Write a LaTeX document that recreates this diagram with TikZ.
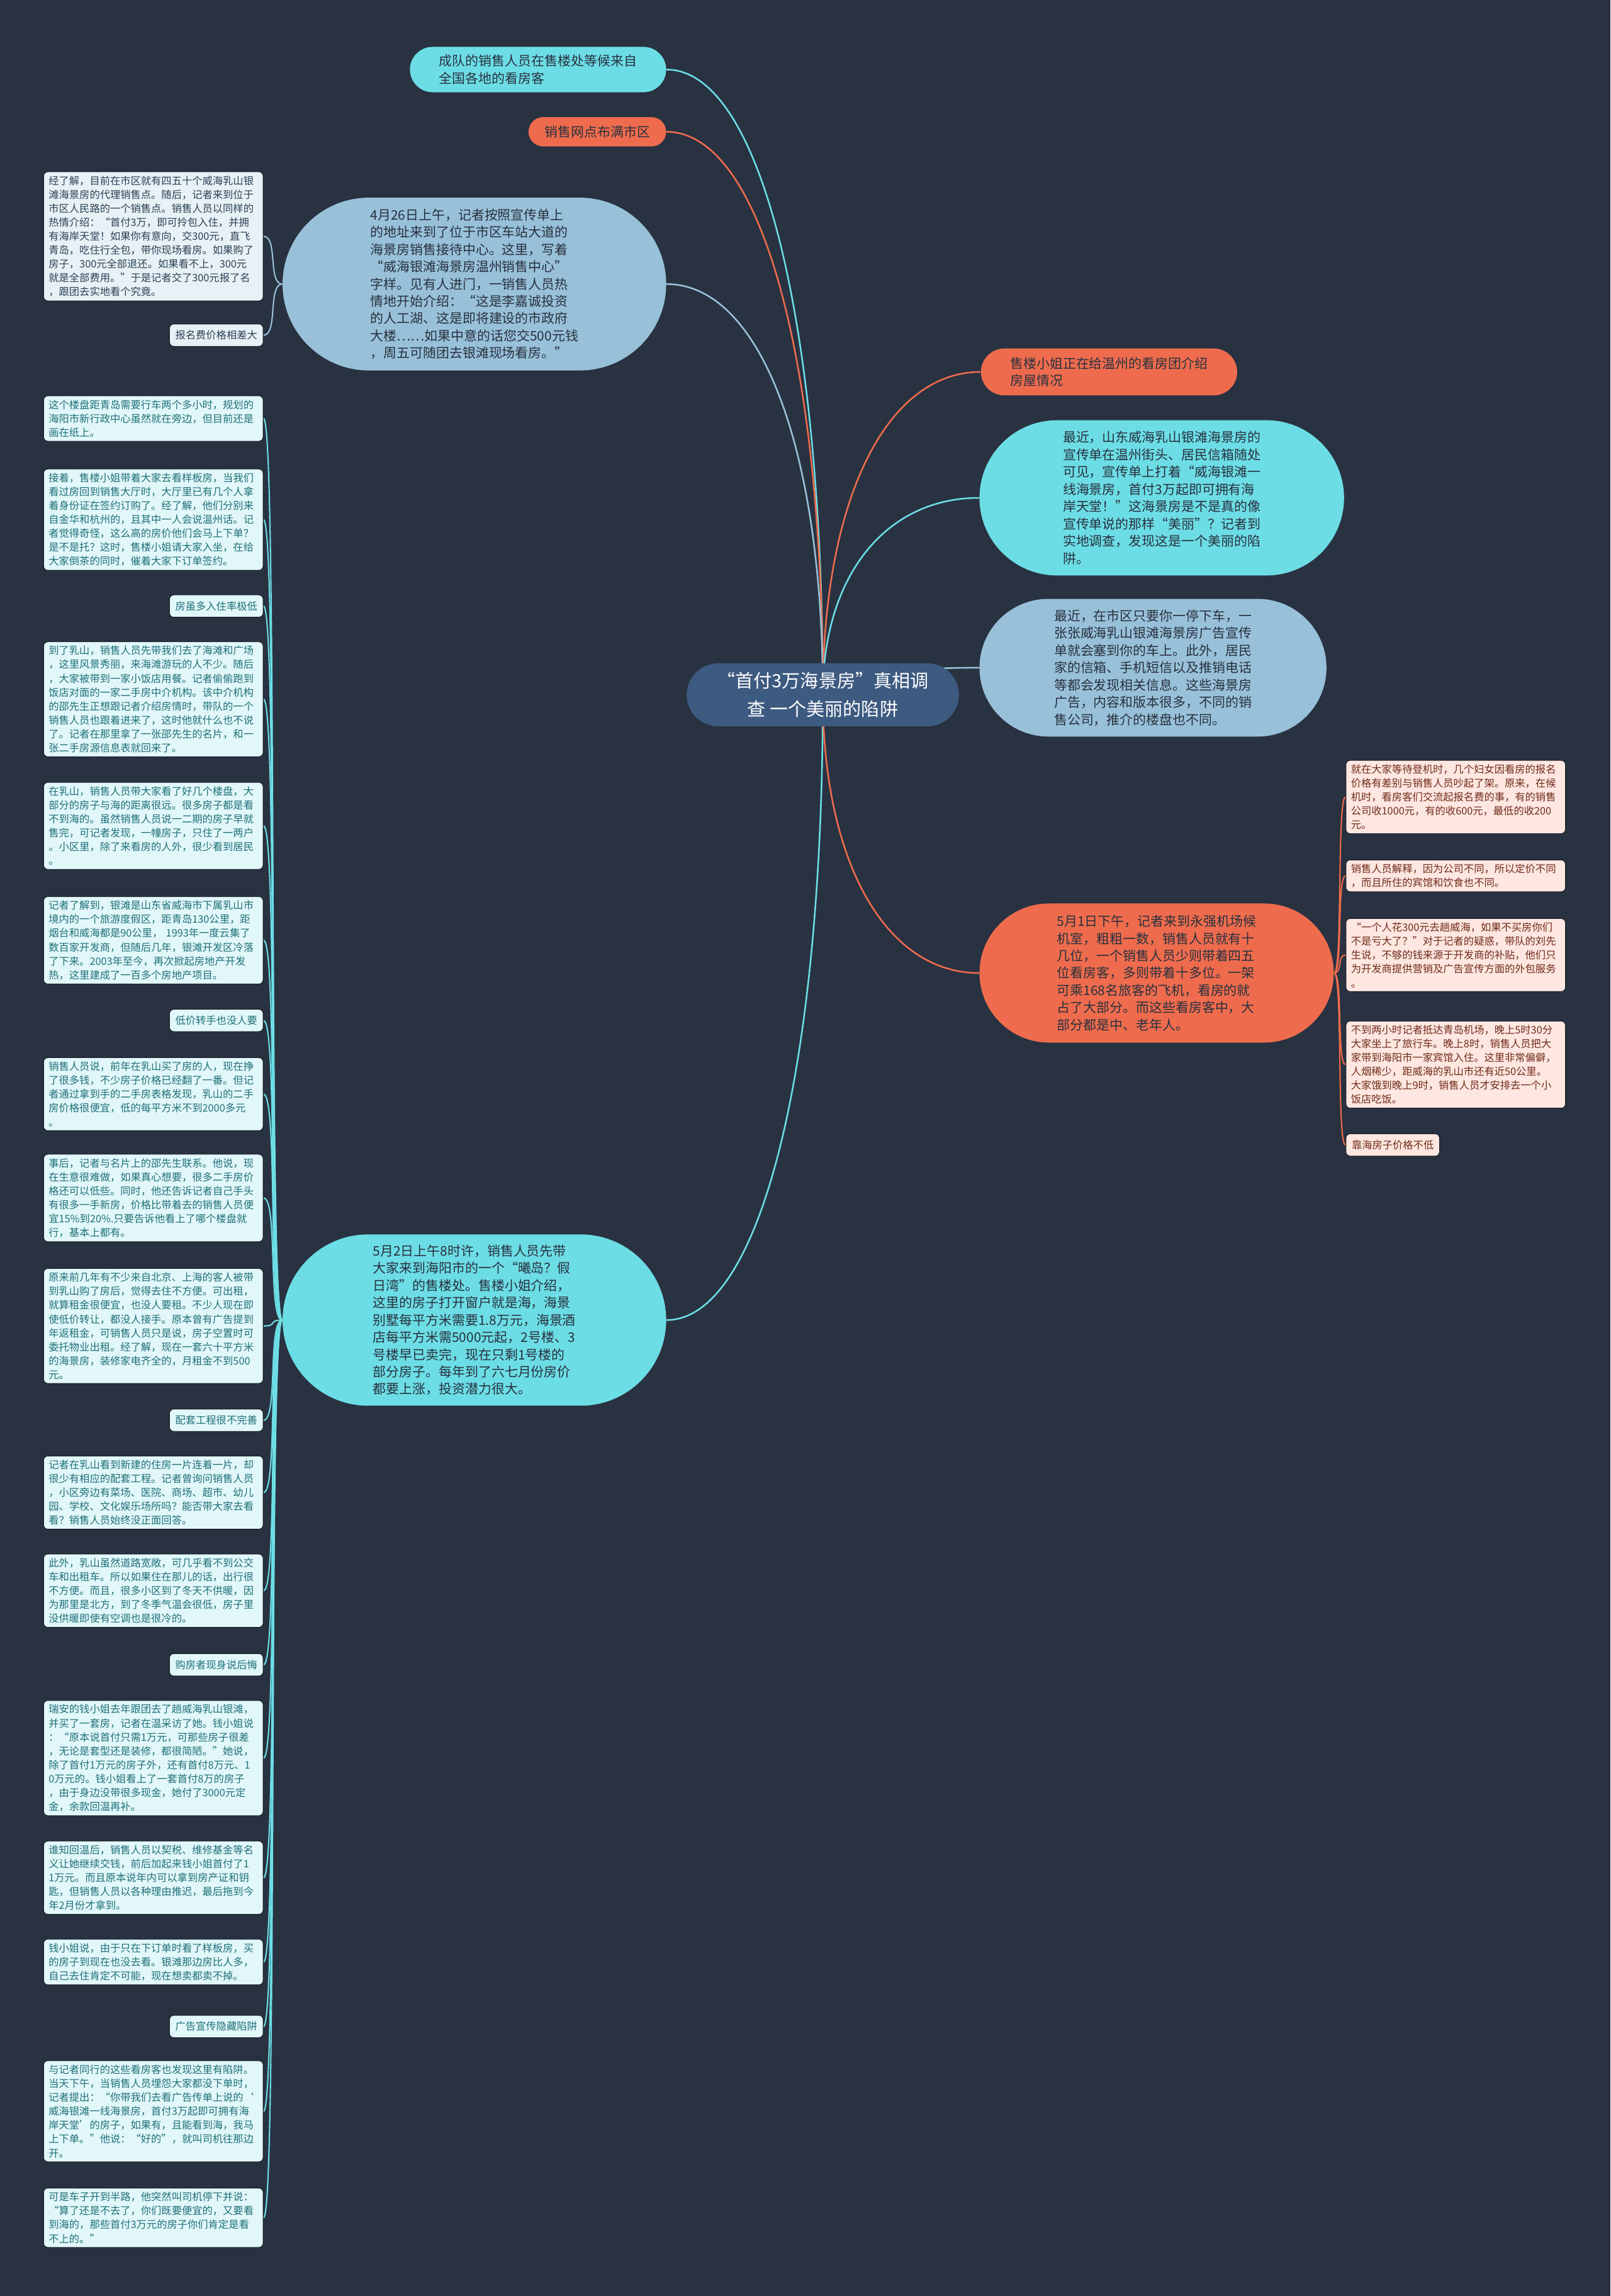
\documentclass[tikz,border=0pt]{standalone}
\usepackage{fontspec}
\setmainfont{Noto Sans CJK SC}
\usepackage{xcolor}
\usepackage{tikz}
\usetikzlibrary{shapes.misc}

\definecolor{bgdark}{RGB}{41,50,65}
\definecolor{inkdark}{RGB}{40,48,62}
\definecolor{rimdark}{RGB}{28,34,44}
\definecolor{rootc}{RGB}{61,90,128}
\definecolor{cyanc}{RGB}{108,221,229}
\definecolor{orangec}{RGB}{238,108,77}
\definecolor{lbluec}{RGB}{152,193,217}
\definecolor{lbfill}{RGB}{232,241,246}
\definecolor{lbtext}{RGB}{44,66,84}
\definecolor{cyfill}{RGB}{226,247,249}
\definecolor{cytext}{RGB}{30,112,120}
\definecolor{orfill}{RGB}{253,231,224}
\definecolor{ortext}{RGB}{112,42,26}

\pgfdeclarelayer{back}
\pgfdeclarelayer{edges}
\pgfsetlayers{back,edges,main}

\begin{document}
\begin{tikzpicture}[
    x=1pt, y=-1pt,
    pill/.style={rounded rectangle, align=left, inner sep=0pt, text=inkdark, font=\fontsize{9}{11.8}\selectfont},
    note/.style={draw=rimdark, line width=0.5pt, rounded corners=3pt, align=left, text width=143pt, inner xsep=3.5pt, inner ysep=2.8pt, font=\fontsize{7}{9.5}\selectfont, anchor=north east},
    tag/.style={draw=rimdark, line width=0.5pt, rounded corners=3pt, inner xsep=4pt, inner ysep=4.4pt, font=\fontsize{7}{9.5}\selectfont, anchor=north east},
    bluenote/.style={fill=lbfill, text=lbtext},
    cyannote/.style={fill=cyfill, text=cytext},
    orangenote/.style={fill=orfill, text=ortext, anchor=north west},
    link/.style={line width=1.1pt},
    twig/.style={line width=0.9pt}
]
\begin{pgfonlayer}{back}
\fill[bgdark] (0,0) rectangle (1100,1568);
\end{pgfonlayer}
\useasboundingbox (0,0) rectangle (1100,1568);

% centre and main branches
\node[pill, fill=rootc, text=white, align=center, font=\fontsize{12.5}{19}\selectfont, minimum width=186pt, minimum height=43pt] (root) at (562,474.5) {“首付3万海景房”真相调\\查 一个美丽的陷阱};

\node[pill, fill=cyanc, minimum width=175pt, minimum height=31pt] (crowd) at (367.5,47.5) {成队的销售人员在售楼处等候来自\\全国各地的看房客};
\node[pill, fill=orangec, minimum width=94pt, minimum height=20pt] (outlets) at (408,90) {销售网点布满市区};
\node[pill, fill=lbluec, minimum width=262pt, minimum height=118pt] (apr26) at (324,194) {4月26日上午，记者按照宣传单上\\的地址来到了位于市区车站大道的\\海景房销售接待中心。这里，写着\\“威海银滩海景房温州销售中心”\\字样。见有人进门，一销售人员热\\情地开始介绍：“这是李嘉诚投资\\的人工湖、这是即将建设的市政府\\大楼……如果中意的话您交500元钱\\，周五可随团去银滩现场看房。”};
\node[pill, fill=cyanc, minimum width=262pt, minimum height=117pt] (may2) at (324,901.5) {5月2日上午8时许，销售人员先带\\大家来到海阳市的一个“曦岛？假\\日湾”的售楼处。售楼小姐介绍，\\这里的房子打开窗户就是海，海景\\别墅每平方米需要1.8万元，海景酒\\店每平方米需5000元起，2号楼、3\\号楼早已卖完，现在只剩1号楼的\\部分房子。每年到了六七月份房价\\都要上涨，投资潜力很大。};

\node[pill, fill=orangec, minimum width=175pt, minimum height=32pt] (guide) at (757.5,254) {售楼小姐正在给温州的看房团介绍\\房屋情况};
\node[pill, fill=cyanc, minimum width=249pt, minimum height=106pt] (flyers) at (793.5,340) {最近，山东威海乳山银滩海景房的\\宣传单在温州街头、居民信箱随处\\可见，宣传单上打着“威海银滩一\\线海景房，首付3万起即可拥有海\\岸天堂！”这海景房是不是真的像\\宣传单说的那样“美丽”？记者到\\实地调查，发现这是一个美丽的陷\\阱。};
\node[pill, fill=lbluec, minimum width=237pt, minimum height=94pt] (handout) at (787.5,456) {最近，在市区只要你一停下车，一\\张张威海乳山银滩海景房广告宣传\\单就会塞到你的车上。此外，居民\\家的信箱、手机短信以及推销电话\\等都会发现相关信息。这些海景房\\广告，内容和版本很多，不同的销\\售公司，推介的楼盘也不同。};
\node[pill, fill=orangec, minimum width=242pt, minimum height=95pt] (may1) at (790,664.5) {5月1日下午，记者来到永强机场候\\机室，粗粗一数，销售人员就有十\\几位，一个销售人员少则带着四五\\位看房客，多则带着十多位。一架\\可乘168名旅客的飞机，看房的就\\占了大部分。而这些看房客中，大\\部分都是中、老年人。};

% notes of 4/26
\node[note, bluenote] (intro) at (180,117) {经了解，目前在市区就有四五十个威海乳山银\\滩海景房的代理销售点。随后，记者来到位于\\市区人民路的一个销售点。销售人员以同样的\\热情介绍：“首付3万，即可拎包入住，并拥\\有海岸天堂！如果你有意向，交300元，直飞\\青岛，吃住行全包，带你现场看房。如果购了\\房子，300元全部退还。如果看不上，300元\\就是全部费用。”于是记者交了300元报了名\\，跟团去实地看个究竟。};
\node[tag, bluenote] (feegap) at (180,221) {报名费价格相差大};

% notes of 5/2
\node[note, cyannote] (faraway) at (180,270) {这个楼盘距青岛需要行车两个多小时，规划的\\海阳市新行政中心虽然就在旁边，但目前还是\\画在纸上。};
\node[note, cyannote] (showroom) at (180,320) {接着，售楼小姐带着大家去看样板房，当我们\\看过房回到销售大厅时，大厅里已有几个人拿\\着身份证在签约订购了。经了解，他们分别来\\自金华和杭州的，且其中一人会说温州话。记\\者觉得奇怪，这么高的房价他们会马上下单？\\是不是托？这时，售楼小姐请大家入坐，在给\\大家倒茶的同时，催着大家下订单签约。};
\node[tag, cyannote] (lowoccupy) at (180,406) {房虽多入住率极低};
\node[note, cyannote] (arrive) at (180,438) {到了乳山，销售人员先带我们去了海滩和广场\\，这里风景秀丽，来海滩游玩的人不少。随后\\，大家被带到一家小饭店用餐。记者偷偷跑到\\饭店对面的一家二手房中介机构。该中介机构\\的邵先生正想跟记者介绍房情时，带队的一个\\销售人员也跟着进来了，这时他就什么也不说\\了。记者在那里拿了一张邵先生的名片，和一\\张二手房源信息表就回来了。};
\node[note, cyannote] (tour) at (180,534) {在乳山，销售人员带大家看了好几个楼盘，大\\部分的房子与海的距离很远。很多房子都是看\\不到海的。虽然销售人员说一二期的房子早就\\售完，可记者发现，一幢房子，只住了一两户\\。小区里，除了来看房的人外，很少看到居民\\。};
\node[note, cyannote] (yintan) at (180,612) {记者了解到，银滩是山东省威海市下属乳山市\\境内的一个旅游度假区，距青岛130公里，距\\烟台和威海都是90公里， 1993年一度云集了\\数百家开发商，但随后几年，银滩开发区冷落\\了下来。2003年至今，再次掀起房地产开发\\热，这里建成了一百多个房地产项目。};
\node[tag, cyannote] (nobuyer) at (180,689) {低价转手也没人要};
\node[note, cyannote] (resale) at (180,722) {销售人员说，前年在乳山买了房的人，现在挣\\了很多钱，不少房子价格已经翻了一番。但记\\者通过拿到手的二手房表格发现，乳山的二手\\房价格很便宜，低的每平方米不到2000多元\\。};
\node[note, cyannote] (agent) at (180,788) {事后，记者与名片上的邵先生联系。他说，现\\在生意很难做，如果真心想要，很多二手房价\\格还可以低些。同时，他还告诉记者自己手头\\有很多一手新房，价格比带着去的销售人员便\\宜15\%到20\%.只要告诉他看上了哪个楼盘就\\行，基本上都有。};
\node[note, cyannote] (rentout) at (180,866) {原来前几年有不少来自北京、上海的客人被带\\到乳山购了房后，觉得去住不方便。可出租，\\就算租金很便宜，也没人要租。不少人现在即\\使低价转让，都没人接手。原本曾有广告提到\\年返租金，可销售人员只是说，房子空置时可\\委托物业出租。经了解，现在一套六十平方米\\的海景房，装修家电齐全的，月租金不到500\\元。};
\node[tag, cyannote] (nofacility) at (180,962) {配套工程很不完善};
\node[note, cyannote] (facility) at (180,994) {记者在乳山看到新建的住房一片连着一片，却\\很少有相应的配套工程。记者曾询问销售人员\\，小区旁边有菜场、医院、商场、超市、幼儿\\园、学校、文化娱乐场所吗？能否带大家去看\\看？销售人员始终没正面回答。};
\node[note, cyannote] (transport) at (180,1061) {此外，乳山虽然道路宽敞，可几乎看不到公交\\车和出租车。所以如果住在那儿的话，出行很\\不方便。而且，很多小区到了冬天不供暖，因\\为那里是北方，到了冬季气温会很低，房子里\\没供暖即使有空调也是很冷的。};
\node[tag, cyannote] (regret) at (180,1129) {购房者现身说后悔};
\node[note, cyannote] (qian) at (180,1161) {瑞安的钱小姐去年跟团去了趟威海乳山银滩，\\并买了一套房，记者在温采访了她。钱小姐说\\：“原本说首付只需1万元，可那些房子很差\\，无论是套型还是装修，都很简陋。”她说，\\除了首付1万元的房子外，还有首付8万元、1\\0万元的。钱小姐看上了一套首付8万的房子\\，由于身边没带很多现金，她付了3000元定\\金，余款回温再补。};
\node[note, cyannote] (fees) at (180,1257) {谁知回温后，销售人员以契税、维修基金等名\\义让她继续交钱，前后加起来钱小姐首付了1\\1万元。而且原本说年内可以拿到房产证和钥\\匙，但销售人员以各种理由推迟，最后拖到今\\年2月份才拿到。};
\node[note, cyannote] (unsold) at (180,1324) {钱小姐说，由于只在下订单时看了样板房，买\\的房子到现在也没去看。银滩那边房比人多，\\自己去住肯定不可能，现在想卖都卖不掉。};
\node[tag, cyannote] (adtrap) at (180,1376) {广告宣传隐藏陷阱};
\node[note, cyannote] (fellow) at (180,1407) {与记者同行的这些看房客也发现这里有陷阱。\\当天下午，当销售人员埋怨大家都没下单时，\\记者提出：“你带我们去看广告传单上说的‘\\威海银滩一线海景房，首付3万起即可拥有海\\岸天堂’的房子，如果有，且能看到海，我马\\上下单。”他说：“好的”，就叫司机往那边\\开。};
\node[note, cyannote] (halfway) at (180,1494) {可是车子开到半路，他突然叫司机停下并说：\\“算了还是不去了，你们既要便宜的，又要看\\到海的，那些首付3万元的房子你们肯定是看\\不上的。”};

% notes of 5/1
\node[note, orangenote] (boarding) at (919,519) {就在大家等待登机时，几个妇女因看房的报名\\价格有差别与销售人员吵起了架。原来，在候\\机时，看房客们交流起报名费的事，有的销售\\公司收1000元，有的收600元，最低的收200\\元。};
\node[note, orangenote] (explain) at (919,587) {销售人员解释，因为公司不同，所以定价不同\\，而且所住的宾馆和饮食也不同。};
\node[note, orangenote] (subsidy) at (919,627) {“一个人花300元去趟威海，如果不买房你们\\不是亏大了？”对于记者的疑惑，带队的刘先\\生说，不够的钱来源于开发商的补贴，他们只\\为开发商提供营销及广告宣传方面的外包服务\\。};
\node[note, orangenote] (hotel) at (919,697) {不到两小时记者抵达青岛机场，晚上5时30分\\大家坐上了旅行车。晚上8时，销售人员把大\\家带到海阳市一家宾馆入住。这里非常偏僻，\\人烟稀少，距威海的乳山市还有近50公里。\\大家饿到晚上9时，销售人员才安排去一个小\\饭店吃饭。};
\node[tag, orangenote] (pricey) at (919,774) {靠海房子价格不低};

\begin{pgfonlayer}{edges}
% main branches
\draw[link, cyanc] (root.center) .. controls +(0,-256) and +(64,0) .. (crowd.east);
\draw[link, orangec] (root.center) .. controls +(0,-231) and +(64,0) .. (outlets.east);
\draw[link, lbluec] (root.center) .. controls +(0,-168) and +(64,0) .. (apr26.east);
\draw[link, cyanc] (root.center) .. controls +(0,256) and +(64,0) .. (may2.east);
\draw[link, orangec] (root.center) .. controls +(0,-132) and +(-65,0) .. (guide.west);
\draw[link, cyanc] (root.center) .. controls +(0,-81) and +(-64,0) .. (flyers.west);
\draw[link, lbluec] (root.center) .. controls +(0,-11) and +(-64,0) .. (handout.west);
\draw[link, orangec] (root.center) .. controls +(0,114) and +(-64,0) .. (may1.west);

% twigs of 4/26
\draw[twig, lbluec] (apr26.west) .. controls +(-10,0) and +(10,0) .. (intro.east);
\draw[twig, lbluec] (apr26.west) .. controls +(-10,0) and +(10,0) .. (feegap.east);

% twigs of 5/2
\draw[twig, cyanc] (may2.west) .. controls +(-10,0) and +(10,0) .. (faraway.east);
\draw[twig, cyanc] (may2.west) .. controls +(-10,0) and +(10,0) .. (showroom.east);
\draw[twig, cyanc] (may2.west) .. controls +(-10,0) and +(10,0) .. (lowoccupy.east);
\draw[twig, cyanc] (may2.west) .. controls +(-10,0) and +(10,0) .. (arrive.east);
\draw[twig, cyanc] (may2.west) .. controls +(-10,0) and +(10,0) .. (tour.east);
\draw[twig, cyanc] (may2.west) .. controls +(-10,0) and +(10,0) .. (yintan.east);
\draw[twig, cyanc] (may2.west) .. controls +(-10,0) and +(10,0) .. (nobuyer.east);
\draw[twig, cyanc] (may2.west) .. controls +(-10,0) and +(10,0) .. (resale.east);
\draw[twig, cyanc] (may2.west) .. controls +(-10,0) and +(10,0) .. (agent.east);
\draw[twig, cyanc] (may2.west) .. controls +(-10,0) and +(10,0) .. (rentout.east);
\draw[twig, cyanc] (may2.west) .. controls +(-10,0) and +(10,0) .. (nofacility.east);
\draw[twig, cyanc] (may2.west) .. controls +(-10,0) and +(10,0) .. (facility.east);
\draw[twig, cyanc] (may2.west) .. controls +(-10,0) and +(10,0) .. (transport.east);
\draw[twig, cyanc] (may2.west) .. controls +(-10,0) and +(10,0) .. (regret.east);
\draw[twig, cyanc] (may2.west) .. controls +(-10,0) and +(10,0) .. (qian.east);
\draw[twig, cyanc] (may2.west) .. controls +(-10,0) and +(10,0) .. (fees.east);
\draw[twig, cyanc] (may2.west) .. controls +(-10,0) and +(10,0) .. (unsold.east);
\draw[twig, cyanc] (may2.west) .. controls +(-10,0) and +(10,0) .. (adtrap.east);
\draw[twig, cyanc] (may2.west) .. controls +(-10,0) and +(10,0) .. (fellow.east);
\draw[twig, cyanc] (may2.west) .. controls +(-10,0) and +(10,0) .. (halfway.east);

% twigs of 5/1
\draw[twig, orangec] (may1.east) .. controls +(6,0) and +(-6,0) .. (boarding.west);
\draw[twig, orangec] (may1.east) .. controls +(6,0) and +(-6,0) .. (explain.west);
\draw[twig, orangec] (may1.east) .. controls +(6,0) and +(-6,0) .. (subsidy.west);
\draw[twig, orangec] (may1.east) .. controls +(6,0) and +(-6,0) .. (hotel.west);
\draw[twig, orangec] (may1.east) .. controls +(6,0) and +(-6,0) .. (pricey.west);
\end{pgfonlayer}
\end{tikzpicture}
\end{document}
